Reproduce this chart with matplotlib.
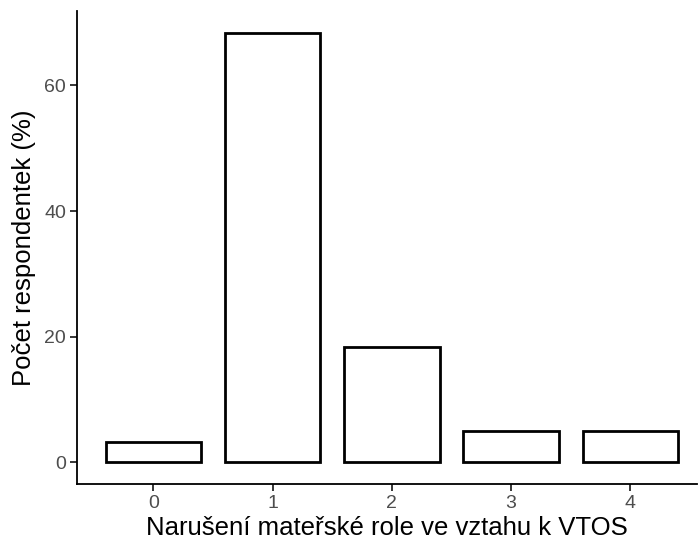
import matplotlib
matplotlib.use("Agg")
import matplotlib.pyplot as plt

categories = ["0", "1", "2", "3", "4"]
values = [3.33, 68.33, 18.33, 5.0, 5.0]
yticks = [0, 20, 40, 60]

plt.rcParams['font.family'] = ['Liberation Sans', 'DejaVu Sans']

fig = plt.figure(figsize=(7.0, 5.45), dpi=100)
ax = fig.add_axes([0.11, 0.112, 0.886, 0.867])

x = list(range(len(categories)))
ax.bar(x, values, width=0.8, facecolor="white", edgecolor="black", linewidth=2.0)

ax.set_xlim(-0.64, len(categories) - 0.44)
ax.set_ylim(-0.05 * max(values), max(values) * 1.05)
ax.set_xticks(x)
ax.set_xticklabels(categories)
ax.set_yticks(yticks)

for s in ["top", "right"]:
    ax.spines[s].set_visible(False)
for s in ["left", "bottom"]:
    ax.spines[s].set_linewidth(1.3)

ax.tick_params(axis="both", colors="black", length=5, width=1.1, labelsize=14, labelcolor="#4D4D4D", pad=3)

ax.set_xlabel("Narušení mateřské role ve vztahu k VTOS", fontsize=18.5, labelpad=3)
ax.set_ylabel("Počet respondentek (%)", fontsize=18.5, labelpad=6)

fig.savefig("out.png", dpi=100)
